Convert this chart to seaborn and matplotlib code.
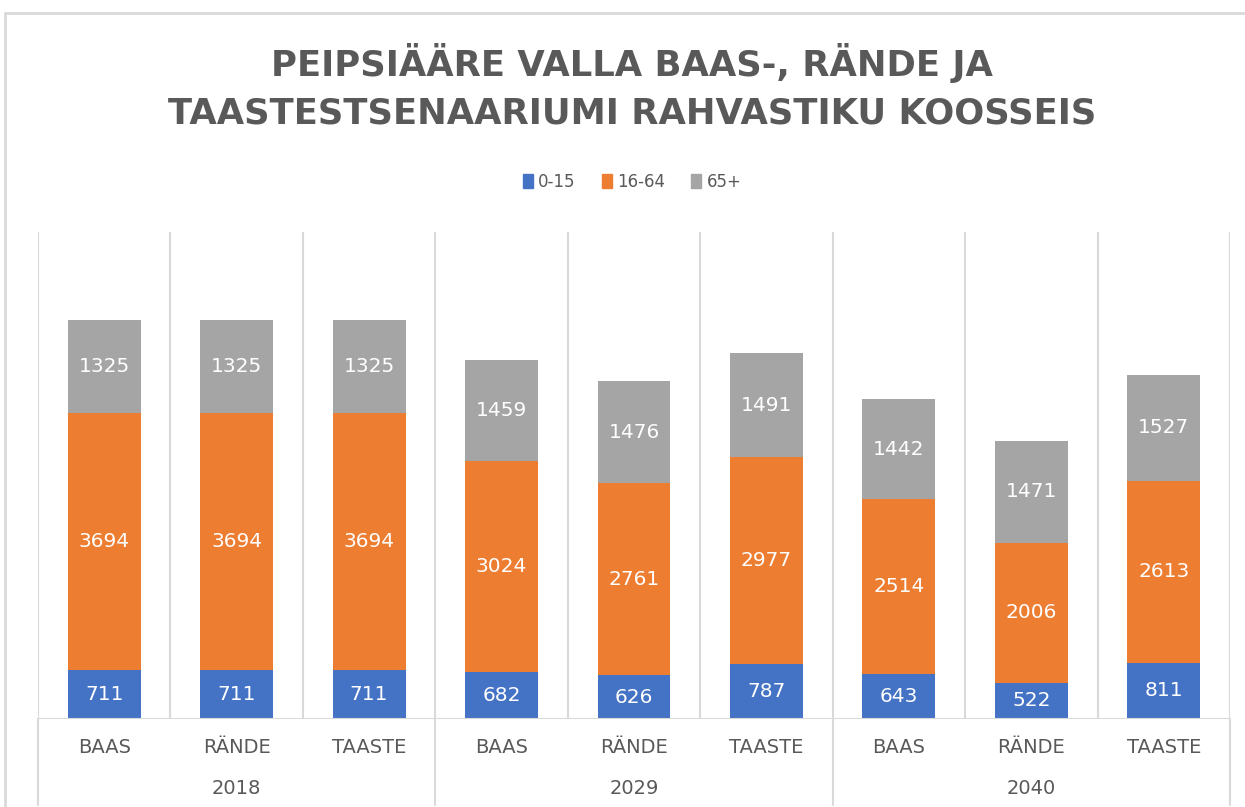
import pandas as pd
import numpy as np
import matplotlib.pyplot as plt
import seaborn as sns
from matplotlib.lines import Line2D
from matplotlib.patches import Rectangle
import matplotlib.transforms as mtransforms

years = ["2018", "2029", "2040"]
scenarios = ["BAAS", "RÄNDE", "TAASTE"]
age_0_15 = [711, 711, 711, 682, 626, 787, 643, 522, 811]
age_16_64 = [3694, 3694, 3694, 3024, 2761, 2977, 2514, 2006, 2613]
age_65_plus = [1325, 1325, 1325, 1459, 1476, 1491, 1442, 1471, 1527]
series_names = ["0-15", "16-64", "65+"]
colors = ["#4472C4", "#ED7D31", "#A5A5A5"]

TEXT = "#595959"
GRID = "#D9D9D9"


def build_frame() -> pd.DataFrame:
    slots = [f"{y} {s}" for y in years for s in scenarios]
    df = pd.DataFrame({
        "slot": slots,
        "year": np.repeat(years, len(scenarios)),
        "scenario": scenarios * len(years),
        "young": age_0_15,
        "working": age_16_64,
        "old": age_65_plus,
    })
    df["cum_young"] = df["young"]
    df["cum_working"] = df["young"] + df["working"]
    df["cum_old"] = df["cum_working"] + df["old"]
    return df


df = build_frame()

sns.set_theme(style="white")
plt.rcParams["font.family"] = ["DejaVu Sans"]

fig = plt.figure(figsize=(12.45, 8.07), dpi=100)
ax = fig.add_axes([38 / 1245, 88 / 807, (1230 - 38) / 1245, (719 - 232) / 807])

# stacked bars drawn as overlapping cumulative totals
for col, color in zip(["cum_old", "cum_working", "cum_young"], colors[::-1]):
    sns.barplot(data=df, x="slot", y=col, color=color, saturation=1,
                width=0.55, errorbar=None, linewidth=0, ax=ax)

ax.set_xlim(-0.5, len(df) - 0.5)
ax.set_ylim(0, 7000)
ax.set_xlabel("")
ax.set_ylabel("")
ax.set_yticks([])
for sp in ax.spines.values():
    sp.set_visible(False)

# vertical gridlines between categories
for i in range(len(df) + 1):
    ax.axvline(i - 0.5, ymin=0, ymax=1, color=GRID, lw=1.5, zorder=0)
ax.axhline(0, color=GRID, lw=1.5, zorder=3)

# group separators extend below the axis
trans = mtransforms.blended_transform_factory(ax.transData, ax.transAxes)
for g in range(len(years) + 1):
    xg = g * len(scenarios) - 0.5
    ax.add_line(Line2D([xg, xg], [0, -0.177], transform=trans, color=GRID,
                       lw=1.5, clip_on=False))

# data labels
for i, row in df.iterrows():
    bottoms = [0, row["cum_young"], row["cum_working"]]
    vals = [row["young"], row["working"], row["old"]]
    for b, v in zip(bottoms, vals):
        ax.text(i, b + v / 2, f"{v}", ha="center", va="center",
                color="white", fontsize=14.5)

# category labels
ax.set_xticks(range(len(df)))
ax.set_xticklabels(df["scenario"], color=TEXT, fontsize=14)
ax.tick_params(axis="x", length=0, pad=14)
for g, y in enumerate(years):
    ax.text(g * len(scenarios) + 1, -0.143, y, transform=trans, ha="center",
            va="center", color=TEXT, fontsize=14)

fig.text(632 / 1245, 1 - 87 / 807,
         "PEIPSIÄÄRE VALLA BAAS-, RÄNDE JA\nTAASTESTSENAARIUMI RAHVASTIKU KOOSSEIS",
         ha="center", va="center", fontsize=25.5, fontweight="bold", color=TEXT,
         linespacing=1.5)

handles = [Rectangle((0, 0), 1, 1, color=c) for c in colors]
fig.legend(handles, series_names, loc="center", ncol=3, frameon=False,
           bbox_to_anchor=(632 / 1245, 1 - 182 / 807), fontsize=12,
           handlelength=0.6, handleheight=0.9, handletextpad=0.3,
           columnspacing=1.6, labelcolor=TEXT)

# outer chart border
fig.patches.append(Rectangle((5 / 1245, -0.1), 1.2, 1.1 - 13 / 807,
                             transform=fig.transFigure, fill=False,
                             edgecolor=GRID, lw=2))

fig.savefig("out.png", dpi=100)
